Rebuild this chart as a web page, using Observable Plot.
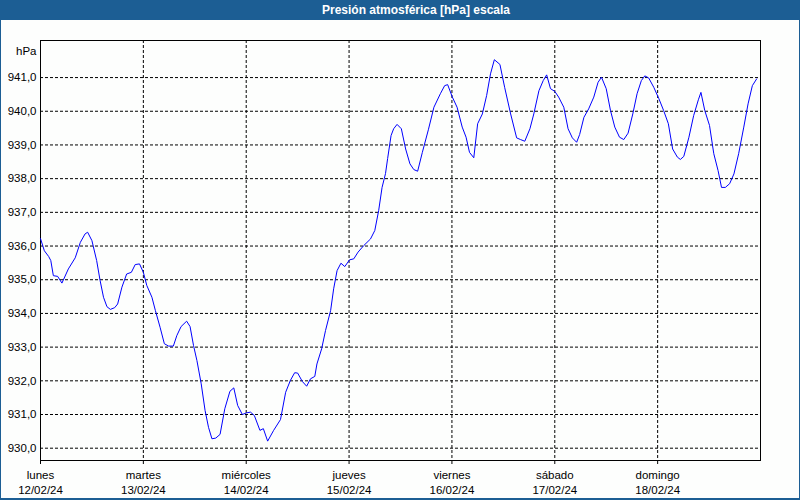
<!DOCTYPE html>
<html><head><meta charset="utf-8">
<script src="https://cdn.jsdelivr.net/npm/d3@7"></script>
<script src="https://cdn.jsdelivr.net/npm/@observablehq/plot@0.6"></script>
<style>
html,body{margin:0;padding:0;background:#fff;}
#wrap{position:relative;width:800px;height:500px;overflow:hidden;background:#fdfefd;font-family:"Liberation Sans",Arial,sans-serif;}
#title{position:absolute;left:0;top:0;width:800px;height:20px;background:#1c5e94;color:#fff;font-weight:bold;font-size:12px;line-height:20px;text-align:center;padding-left:32px;box-sizing:border-box;}
#chart{position:absolute;left:0;top:20px;}
.bl{position:absolute;background:#1c5e94;}
</style></head>
<body>
<div id="wrap">
  <div id="title">Presión atmosférica [hPa] escala</div>
  <div id="chart"></div>
  <div class="bl" style="left:0;top:0;width:1px;height:500px"></div>
  <div class="bl" style="right:0;top:0;width:1px;height:500px"></div>
  <div class="bl" style="left:0;bottom:0;width:800px;height:2px"></div>
</div>
<script>
// hours since lunes 12/02/24 00:00
const hours = [0,0.9,1.9,2.4,3.0,4.0,5.0,6.5,8.1,9.3,10.4,11.0,12.0,13.1,13.9,14.7,15.5,16.3,17.3,18.0,19.0,20.1,21.2,22.1,23.1,24.0,24.8,26.0,26.8,27.9,28.9,29.9,31.0,31.8,32.8,34.1,34.9,35.7,36.5,37.5,38.4,39.2,40.0,40.9,41.9,43.0,44.2,45.1,46.0,47.1,48.1,49.0,49.9,51.2,52.0,53.0,54.4,56.0,57.2,58.3,59.3,60.0,61.1,62.1,63.0,64.0,64.5,65.6,66.5,67.7,68.4,69.2,70.1,71.0,72.1,73.1,74.1,75.4,77.0,78.0,78.9,79.7,80.5,81.0,81.8,82.4,83.2,84.2,85.2,86.2,87.1,88.0,89.1,90.5,91.8,93.3,94.3,95.0,96.1,97.2,98.4,99.3,100.1,101.1,102.0,103.1,104.1,105.0,105.9,107.2,108.3,109.7,111.1,112.0,113.0,114.2,115.1,116.3,117.3,118.1,119.0,120.0,120.9,122.1,123.1,124.1,125.1,125.8,126.8,127.9,129.1,130.1,130.9,132.0,133.0,134.0,135.1,136.1,137.1,138.2,139.2,140.2,141.0,141.9,143.1,144.3,145.4,146.5,147.5,148.6,149.3,150.1,151.3,152.4,153.5,154.1,155.0,156.1,157.1,158.1,158.9,159.8,160.8,161.8,162.9,164.1,165.1,166.1,167.1];
const pressure = [936.22,935.86,935.69,935.57,935.12,935.10,934.90,935.32,935.65,936.11,936.36,936.41,936.16,935.57,934.98,934.48,934.20,934.12,934.17,934.28,934.78,935.17,935.22,935.45,935.47,935.22,934.83,934.48,934.09,933.59,933.10,933.03,933.03,933.34,933.61,933.77,933.61,933.05,932.60,931.91,931.12,930.62,930.28,930.30,930.41,931.17,931.69,931.79,931.27,931.00,931.05,931.07,930.97,930.53,930.58,930.21,930.53,930.85,931.66,932.01,932.24,932.23,931.98,931.84,932.06,932.13,932.50,932.95,933.49,934.09,934.73,935.27,935.49,935.39,935.59,935.62,935.82,936.01,936.21,936.46,937.05,937.74,938.15,938.60,939.28,939.48,939.61,939.48,938.88,938.44,938.27,938.22,938.78,939.45,940.12,940.52,940.76,940.79,940.42,940.12,939.53,939.23,938.78,938.62,939.63,939.92,940.47,941.11,941.53,941.39,940.71,939.92,939.21,939.16,939.11,939.48,939.92,940.61,940.91,941.08,940.67,940.59,940.42,940.12,939.48,939.21,939.08,939.31,939.82,940.07,940.42,940.86,941.01,940.67,940.02,939.53,939.23,939.16,939.35,939.92,940.52,940.91,941.05,940.99,940.71,940.37,940.02,939.63,938.88,938.64,938.57,938.66,939.23,939.87,940.34,940.56,940.02,939.58,938.74,938.24,937.74,937.74,937.85,938.14,938.74,939.53,940.22,940.76,940.96];
const dayNames = ["lunes","martes","miércoles","jueves","viernes","sábado","domingo"];
const dayDates = ["12/02/24","13/02/24","14/02/24","15/02/24","16/02/24","17/02/24","18/02/24"];
const yTicks = [930,931,932,933,934,935,936,937,938,939,940,941];

const start = Date.UTC(2024,1,12);
const DAY = 86400e3;
const data = hours.map((h,i)=>({t:new Date(start+h*3600e3), p:pressure[i]}));
const dayTicks = dayNames.map((_,i)=>new Date(start+i*DAY));
const labelFor = d => { const i = Math.round((+d - start)/DAY); return dayNames[i] + "\n" + dayDates[i]; };
const grid = {stroke:"#000", strokeOpacity:1, strokeDasharray:"3,2"};

const chart = Plot.plot({
  width:800, height:478,
  marginLeft:40, marginRight:40, marginTop:20, marginBottom:38,
  style:{fontFamily:"'Liberation Sans', Arial, sans-serif", fontSize:"11.5px", color:"#000", background:"transparent", overflow:"visible"},
  x:{type:"utc", domain:[new Date(start), new Date(start+7*DAY)], label:null},
  y:{domain:[929.635, 942.1], label:null},
  marks:[
    Plot.gridY(yTicks, grid),
    Plot.gridX(dayTicks.slice(1), grid),
    Plot.axisY(yTicks, {tickSize:0, tickPadding:4, tickFormat:d=>d.toFixed(1).replace(".", ","), fill:"#000", label:null}),
    Plot.axisX(dayTicks, {tickSize:4, tickPadding:3, tickFormat:labelFor, lineHeight:1.35, fill:"#000", stroke:"#000", label:null}),
    Plot.frame({stroke:"#000"}),
    Plot.line(data, {x:"t", y:"p", stroke:"#0000ff", strokeWidth:1}),
    Plot.text(["hPa"], {frameAnchor:"top-left", dx:-4, dy:6, textAnchor:"end", fill:"#000"})
  ]
});
document.getElementById("chart").appendChild(chart);
</script>
</body></html>
